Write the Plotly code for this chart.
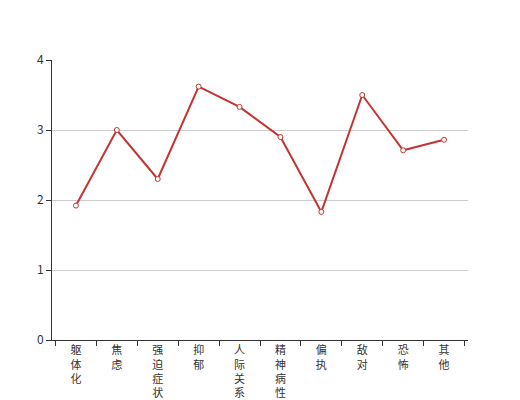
import plotly.graph_objects as go

categories = ["躯体化", "焦虑", "强迫症状", "抑郁", "人际关系敏感", "精神病性", "偏执", "敌对", "恐怖", "其他"]
values = [1.92, 3.0, 2.3, 3.62, 3.33, 2.9, 1.83, 3.5, 2.71, 2.86]
y_ticks = [0, 1, 2, 3, 4]

tick_text = ["<br>".join(list(c)) for c in categories]

fig = go.Figure()
fig.add_trace(go.Scatter(
    x=categories, y=values, mode="lines+markers",
    line=dict(color="#c23531", width=2),
    marker=dict(symbol="circle", size=5, color="white", line=dict(color="#c23531", width=1)),
    showlegend=False,
))

# page body has an 8px default margin, so the figure is offset by 8px
font = "Noto Sans CJK SC, sans-serif"
fig.update_layout(
    width=512, height=392,
    margin=dict(l=44, r=52, t=52, b=60),
    paper_bgcolor="white", plot_bgcolor="white",
    font=dict(family=font, size=12, color="#333"),
)
fig.update_xaxes(
    type="category", tickmode="array", tickvals=categories, ticktext=tick_text,
    tickson="boundaries", ticks="outside", ticklen=5, tickcolor="#333",
    showline=True, linecolor="#333", linewidth=1, showgrid=False,
    tickangle=0, tickfont=dict(size=11, color="#333"), automargin=False,
)
fig.update_yaxes(
    range=[0, 4], tickvals=y_ticks, ticks="outside", ticklen=5, tickcolor="#333",
    showline=True, linecolor="#333", linewidth=1,
    showgrid=True, gridcolor="#ccc", gridwidth=1, zeroline=False,
    tickfont=dict(size=12, color="#333"), automargin=False,
)
fig.write_html("out.html")
